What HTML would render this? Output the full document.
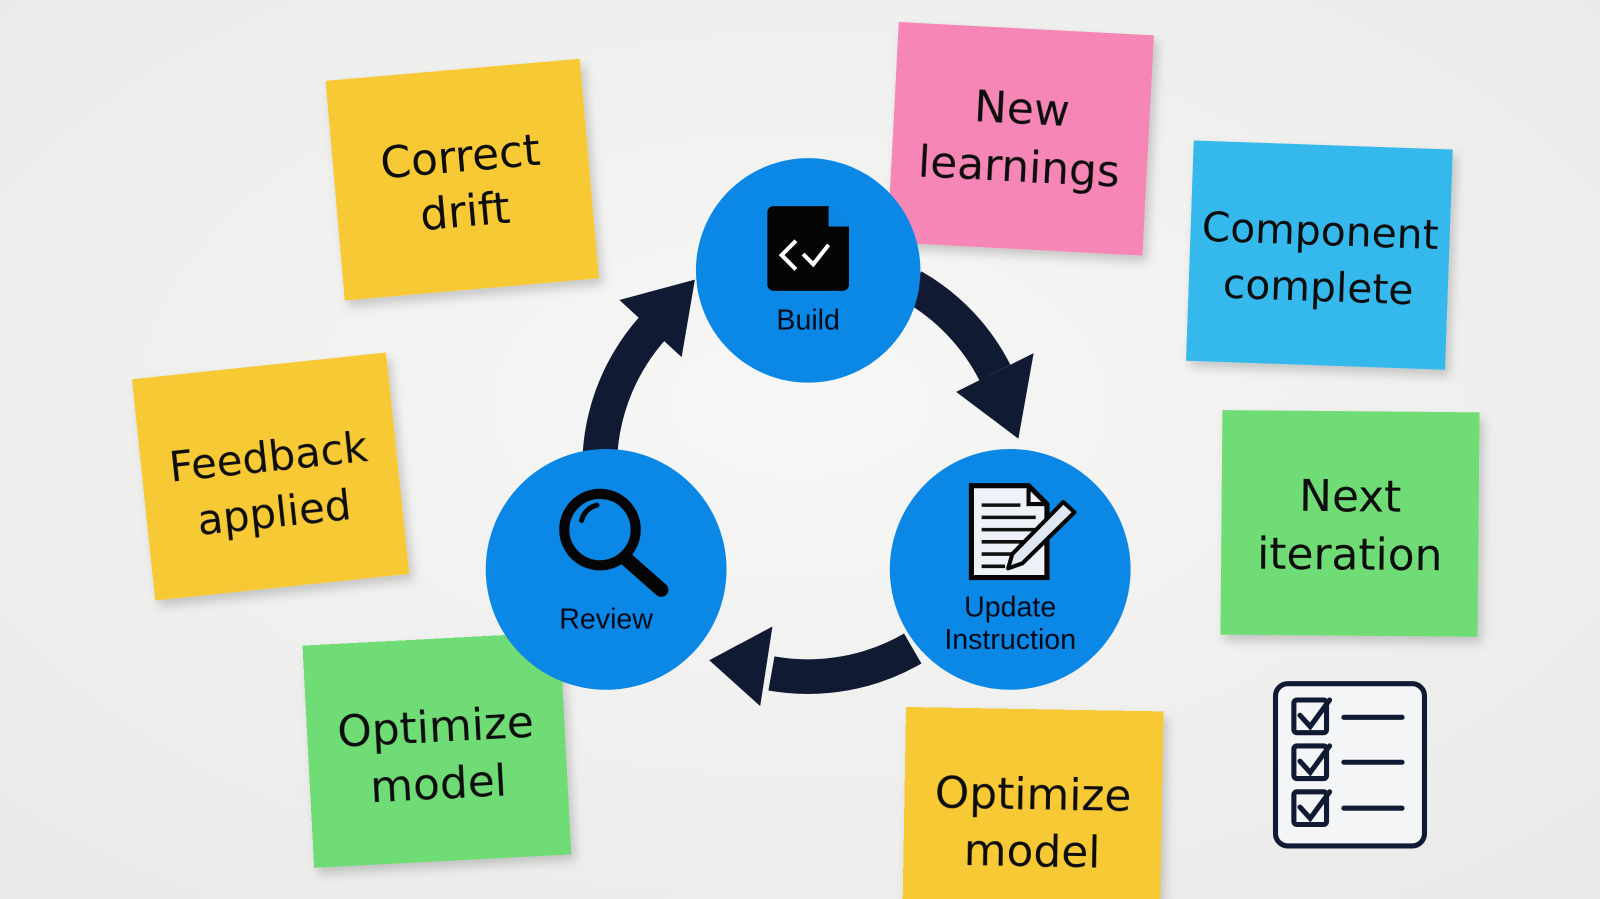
<!DOCTYPE html>
<html><head><meta charset="utf-8"><style>
html,body{margin:0;padding:0;background:#f1f1f0;}
svg{display:block}
.n{font-family:"DejaVu Sans","Liberation Sans",sans-serif;font-size:43px;fill:#111;text-anchor:middle}
.c{font-family:"Liberation Sans",sans-serif;font-size:28px;fill:#050a1a;text-anchor:middle}
</style></head><body>
<svg width="1600" height="899" viewBox="0 0 1568 881" xmlns="http://www.w3.org/2000/svg">
<defs>
<radialGradient id="bg" cx="50%" cy="45%" r="75%"><stop offset="0" stop-color="#f7f7f6"/><stop offset="1" stop-color="#e9e9e8"/></radialGradient>
<filter id="sh" x="-10%" y="-10%" width="130%" height="130%"><feDropShadow dx="4" dy="6" stdDeviation="5" flood-color="#000" flood-opacity="0.18"/></filter>
</defs>
<rect width="1568" height="881" fill="url(#bg)"/>

<g filter="url(#sh)">
<g transform="translate(453,176) rotate(-5)"><rect x="-125" y="-108" width="250" height="216" fill="#f7c935"/>
<text class="n" y="-8">Correct</text><text class="n" y="46">drift</text></g>
<g transform="translate(1000,136) rotate(3)"><rect x="-125" y="-108" width="250" height="216" fill="#f586b5"/>
<text class="n" y="-15">New</text><text class="n" y="42">learnings</text></g>
<g transform="translate(1293,250) rotate(2)"><rect x="-127" y="-108" width="254" height="216" fill="#35b8ec"/>
<text class="n" y="-10" style="font-size:40px">Component</text><text class="n" y="45" style="font-size:40px">complete</text></g>
<g transform="translate(265,467) rotate(-6)"><rect x="-125" y="-109" width="250" height="218" fill="#f7c935"/>
<text class="n" y="-5" style="font-size:41px">Feedback</text><text class="n" y="50" style="font-size:41px">applied</text></g>
<g transform="translate(1323,513) rotate(0.5)"><rect x="-126" y="-110" width="252" height="220" fill="#6fdc74"/>
<text class="n" y="-12">Next</text><text class="n" y="45">iteration</text></g>
<g transform="translate(428,735) rotate(-3)"><rect x="-126" y="-109" width="252" height="218" fill="#6fdc74"/>
<text class="n" y="-8">Optimize</text><text class="n" y="48">model</text></g>
<g transform="translate(1012,805) rotate(1)"><rect x="-126" y="-110" width="252" height="220" fill="#f7c935"/>
<text class="n" y="-12">Optimize</text><text class="n" y="44">model</text></g>
</g>

<g fill="none" stroke="#111a33" stroke-width="34">
<path d="M588,445 A205,205 0 0 1 640,321"/>
<path d="M894.5,280.5 A205,205 0 0 1 975,365"/>
<path d="M894.5,635.5 A205,205 0 0 1 756,660"/>
</g>
<g fill="#111a33">
<polygon points="681,274 607,294 668,350"/>
<polygon points="998,430 1013,346 937,384"/>
<polygon points="695,647 745,692 757,614"/>
</g>

<circle cx="792" cy="265" r="110" fill="#0b88e6"/>
<circle cx="594" cy="558" r="118" fill="#0b88e6"/>
<circle cx="990" cy="558" r="118" fill="#0b88e6"/>

<path d="M758,202 H812 L832,222 V279 a6,6 0 0 1 -6,6 H758 a6,6 0 0 1 -6,-6 V208 a6,6 0 0 1 6,-6z" fill="#050505"/>
<path d="M812,202 V222 H832z" fill="#0b88e6"/>
<path d="M780,236 L766,250 L780,264" fill="none" stroke="#fff" stroke-width="4"/>
<path d="M787,249 L797,259 L812,240" fill="none" stroke="#fff" stroke-width="4"/>
<text class="c" x="792" y="323">Build</text>

<circle cx="588" cy="519" r="35" fill="none" stroke="#050505" stroke-width="10"/>
<path d="M570,510 a20,20 0 0 1 15,-15" fill="none" stroke="#050505" stroke-width="5" stroke-linecap="round"/>
<path d="M614,548 L648,578" stroke="#050505" stroke-width="14" stroke-linecap="round"/>
<text class="c" x="594" y="616">Review</text>

<path d="M952,476 H1008 L1026,494 V566 H952z" fill="#eef2f8" stroke="#050505" stroke-width="5"/>
<path d="M1008,476 V494 H1026" fill="none" stroke="#050505" stroke-width="4"/>
<g stroke="#111" stroke-width="3.5"><line x1="962" y1="495" x2="1000" y2="495"/><line x1="962" y1="507" x2="1015" y2="507"/><line x1="962" y1="519" x2="1015" y2="519"/><line x1="962" y1="531" x2="1005" y2="531"/><line x1="962" y1="543" x2="995" y2="543"/><line x1="962" y1="555" x2="985" y2="555"/></g>
<path d="M1042,492 L1053,502 L1002,552 L988,557 L992,543z" fill="#dfe7f2" stroke="#050505" stroke-width="4" stroke-linejoin="round"/>
<text class="c" x="990" y="604">Update</text>
<text class="c" x="990" y="636">Instruction</text>

<rect x="1250" y="670" width="146" height="159" rx="12" fill="#f4f5f6" stroke="#111a33" stroke-width="5"/>
<g fill="none" stroke="#111a33" stroke-width="5" stroke-linecap="round">
<rect x="1268" y="686" width="32" height="32" rx="3"/><rect x="1268" y="731" width="32" height="32" rx="3"/><rect x="1268" y="776" width="32" height="32" rx="3"/>
<path d="M1274,701 L1284,712 L1303,686"/><path d="M1274,746 L1284,757 L1303,731"/><path d="M1274,791 L1284,802 L1303,776"/>
<line x1="1317" y1="703" x2="1374" y2="703"/><line x1="1317" y1="747" x2="1374" y2="747"/><line x1="1317" y1="792" x2="1374" y2="792"/>
</g>
</svg>
</body></html>
